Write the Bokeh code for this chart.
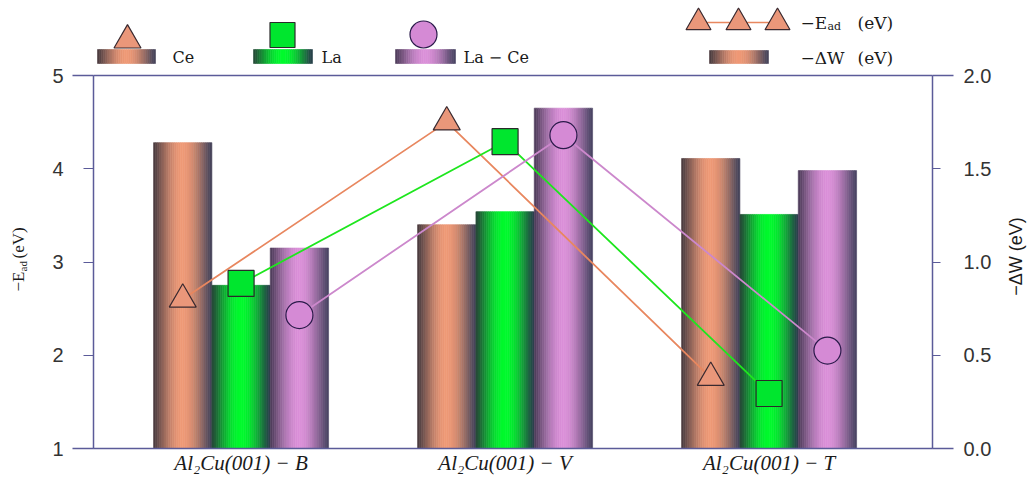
import math
from bokeh.plotting import figure
from bokeh.models import Range1d, LinearAxis, FixedTicker, PrintfTickFormatter, Span
from bokeh.layouts import row
from bokeh.embed import file_html
from bokeh.resources import INLINE
from bokeh.core.properties import value

# ---------------- data ----------------
categories = ["Al₂Cu(001) − B", "Al₂Cu(001) − V", "Al₂Cu(001) − T"]
series_names = ["Ce", "La", "La − Ce"]
# -ΔW (eV), bars, right axis
dw_ce = [1.64, 1.20, 1.555]
dw_la = [0.875, 1.27, 1.255]
dw_lace = [1.075, 1.825, 1.49]
# -E_ad (eV), markers + lines, left axis
ead_ce = [2.60, 4.50, 1.76]
ead_la = [2.77, 4.29, 1.59]
ead_lace = [2.43, 4.36, 2.05]
ead_ticks = [1, 2, 3, 4, 5]
dw_ticks = [0.0, 0.5, 1.0, 1.5, 2.0]

# ---------------- style ----------------
AXIS = "#5b5b99"
TICKTXT = "#333333"
TXT = "#1a1a1a"
SERIF = "Liberation Serif"
LSERIF = "DejaVu Serif"
SANS = "Liberation Sans"

PAL = {
    "Ce": ((72, 58, 62), (238, 153, 118), (66, 66, 90)),
    "La": ((38, 72, 56), (0, 250, 45), (40, 60, 74)),
    "La − Ce": ((78, 60, 90), (218, 144, 216), (70, 66, 96)),
}
LINE_COL = {"Ce": "#e8875f", "La": "#1ee61e", "La − Ce": "#cc88cc"}
MARK_FILL = {"Ce": "#ea977a", "La": "#00e62e", "La − Ce": "#d58ad5"}
MARK_LINE = {"Ce": "#3a2a30", "La": "#2a2a2a", "La − Ce": "#2a1a4a"}
MARKER = {"Ce": "triangle", "La": "square", "La − Ce": "circle"}
MSIZE = {"Ce": 27, "La": 26, "La − Ce": 27}
NSTRIP = 28


def grad_colors(edge_l, mid, edge_r, n):
    cols = []
    for i in range(n):
        t = (i + 0.5) / n
        f = math.sin(math.pi * t) ** 1.2
        e = [a + (b - a) * t for a, b in zip(edge_l, edge_r)]
        c = [int(round(ee + (m - ee) * f)) for ee, m in zip(e, mid)]
        cols.append("#%02x%02x%02x" % tuple(c))
    return cols


# ---------------- geometry (page px) ----------------
H = 478
W_LT, W_RT = 40, 30
W_MAIN = 1030 - W_LT - W_RT
FR_L, FR_R = 93, 932          # frame left/right on page
AX_T, AX_B = 75, 448          # page y of value 5 (2.0) and 1 (0.0)
X0, X1 = 0.441, 3.619
BW = 0.221
Y_TOP = 1 + AX_B / (AX_B - AX_T) * 4      # data value at page y = 0
DW_TOP = (Y_TOP - 1) / 2


def fx(px):
    return X0 + (px - FR_L) / (FR_R - FR_L) * (X1 - X0)


def fy(py):
    return 1 + (AX_B - py) / (AX_B - AX_T) * 4


# ---------------- main figure ----------------
p = figure(width=W_MAIN, height=H, x_range=Range1d(X0, X1), y_range=Range1d(1, Y_TOP),
           output_backend="svg", toolbar_location=None,
           min_border_left=FR_L - W_LT, min_border_right=W_LT + W_MAIN - FR_R,
           min_border_top=0, min_border_bottom=H - AX_B,
           background_fill_color="white", border_fill_color="white",
           outline_line_color=None)
p.extra_y_ranges = {"dw": Range1d(0, DW_TOP)}
p.xgrid.grid_line_color = None
p.ygrid.grid_line_color = None

xs = [1, 2, 3]
dws = {"Ce": dw_ce, "La": dw_la, "La − Ce": dw_lace}
eads = {"Ce": ead_ce, "La": ead_la, "La − Ce": ead_lace}

for k, name in enumerate(series_names):
    cols = grad_colors(*PAL[name], NSTRIP)
    L, R, T, C = [], [], [], []
    for g, v in zip(xs, dws[name]):
        c = g + (k - 1) * BW
        for i in range(NSTRIP):
            l = c - BW / 2 + i * BW / NSTRIP
            L.append(l); R.append(l + BW / NSTRIP); T.append(v); C.append(cols[i])
    p.quad(left=L, right=R, bottom=0, top=T, fill_color=C, line_color=C,
           line_width=0.6, y_range_name="dw")

for k, name in enumerate(series_names):
    mx = [g + (k - 1) * BW for g in xs]
    p.line(mx, eads[name], line_color=LINE_COL[name], line_width=1.8)
for k, name in enumerate(series_names):
    mx = [g + (k - 1) * BW for g in xs]
    p.scatter(mx, eads[name], marker=MARKER[name], size=MSIZE[name],
              fill_color=MARK_FILL[name], line_color=MARK_LINE[name], line_width=1.2)

# top border line of the plot box
p.add_layout(Span(location=ead_ticks[-1], dimension="width", line_color=AXIS, line_width=1.5))

# axes
xa = p.xaxis[0]
xa.ticker = FixedTicker(ticks=xs)
xa.major_label_overrides = {i: c for i, c in zip(xs, categories)}
xa.major_tick_line_color = None
xa.minor_tick_line_color = None
xa.major_tick_in = 0
xa.major_tick_out = 0
xa.minor_tick_in = 0
xa.minor_tick_out = 0
xa.axis_line_color = AXIS
xa.axis_line_width = 1.5
xa.major_label_standoff = 2
xa.major_label_text_font = SERIF
xa.major_label_text_font_style = "italic"
xa.major_label_text_font_size = "21px"
xa.major_label_text_line_height = 1.1
xa.major_label_text_color = TXT

ya = p.yaxis[0]
ya.bounds = (ead_ticks[0], ead_ticks[-1])
ya.ticker = FixedTicker(ticks=ead_ticks, minor_ticks=[ead_ticks[0], ead_ticks[-1]])
ya.axis_line_color = AXIS
ya.axis_line_width = 1.5
ya.major_tick_line_color = AXIS
ya.major_tick_line_width = 1.2
ya.major_tick_in = 0
ya.major_tick_out = 10
ya.minor_tick_line_color = AXIS
ya.minor_tick_line_width = 1.5
ya.minor_tick_in = 0
ya.minor_tick_out = 21
ya.major_label_standoff = 9
ya.major_label_text_font = SANS
ya.major_label_text_font_size = "20px"
ya.major_label_text_color = TICKTXT

ra = LinearAxis(y_range_name="dw", bounds=(dw_ticks[0], dw_ticks[-1]),
                ticker=FixedTicker(ticks=dw_ticks, minor_ticks=[dw_ticks[0], dw_ticks[-1]]),
                formatter=PrintfTickFormatter(format="%.1f"))
ra.axis_line_color = AXIS
ra.axis_line_width = 1.5
ra.major_tick_line_color = AXIS
ra.major_tick_line_width = 1.2
ra.major_tick_in = 0
ra.major_tick_out = 8
ra.minor_tick_line_color = AXIS
ra.minor_tick_line_width = 1.5
ra.minor_tick_in = 0
ra.minor_tick_out = 21
ra.major_label_standoff = 10
ra.major_label_text_font = SANS
ra.major_label_text_font_size = "20px"
ra.major_label_text_color = TICKTXT
p.add_layout(ra, "right")

# ---------------- legend (inside the frame, above the plot box) ----------------
def leg_bar(x0, x1, y0, y1, name):
    cols = grad_colors(*PAL[name], NSTRIP)
    w = (x1 - x0) / NSTRIP
    L = [fx(x0 + i * w) for i in range(NSTRIP)]
    R = [fx(x0 + (i + 1) * w) for i in range(NSTRIP)]
    p.quad(left=L, right=R, bottom=fy(y1), top=fy(y0), fill_color=cols, line_color=cols,
           line_width=0.6)


def leg_text(px, py, s, size="16px"):
    p.text([fx(px)], [fy(py)], text=[s], text_font=value(LSERIF), text_font_size=size,
           text_baseline="middle", text_color=TXT)


leg_items = [
    ("Ce", 97, 155, 127, 39.7, 172),
    ("La", 253, 312, 282, 34.5, 321),
    ("La − Ce", 395, 455, 423, 34, 463),
]
for name, bx0, bx1, mx, my, tx in leg_items:
    leg_bar(bx0, bx1, 49, 63, name)
    p.scatter([fx(mx)], [fy(my)], marker=MARKER[name],
              size=MSIZE[name] - (1 if name == "La" else 0),
              fill_color=MARK_FILL[name], line_color=MARK_LINE[name], line_width=1.2)
    leg_text(tx, 57, name)

tri_x = [fx(v) for v in (698, 738, 777)]
p.line(tri_x, [fy(22)] * 3, line_color=LINE_COL["Ce"], line_width=1.5)
p.scatter(tri_x, [fy(22)] * 3, marker="triangle", size=25, fill_color=MARK_FILL["Ce"],
          line_color=MARK_LINE["Ce"], line_width=1.2)
leg_text(800, 22, "−E", "17px")
leg_text(827, 26, "ad", "11px")
leg_text(857, 22, "(eV)", "17px")
leg_bar(709, 768, 50, 63, "Ce")
leg_text(800, 57, "−ΔW", "17px")
leg_text(857, 57, "(eV)", "17px")

# ---------------- axis titles (side strips sharing the y scale) ----------------
ROT = math.pi / 2


def side_fig(width, x_start):
    f = figure(width=width, height=H, x_range=Range1d(x_start, x_start + width),
               y_range=p.y_range, output_backend="svg", toolbar_location=None,
               min_border_left=0, min_border_right=0, min_border_top=0,
               min_border_bottom=H - AX_B, x_axis_type=None, y_axis_type=None,
               outline_line_color=None, background_fill_color="white",
               border_fill_color="white")
    f.xgrid.grid_line_color = None
    f.ygrid.grid_line_color = None
    return f


lt = side_fig(W_LT, 0)
lt.text([18], [fy(291)], text=["−E"], angle=ROT, text_align="left", text_baseline="middle",
        text_font=value(SERIF), text_font_size="17px", text_color=TXT)
lt.text([22.5], [fy(271)], text=["ad"], angle=ROT, text_align="left", text_baseline="middle",
        text_font=value(SERIF), text_font_size="11px", text_color=TXT)
lt.text([18], [fy(258)], text=["(eV)"], angle=ROT, text_align="left", text_baseline="middle",
        text_font=value(SERIF), text_font_size="17px", text_color=TXT)

rt = side_fig(W_RT, W_LT + W_MAIN)
rt.text([1015], [fy(256)], text=["−ΔW (eV)"], angle=ROT, text_align="center",
        text_baseline="middle", text_font=value(SANS), text_font_size="18px", text_color=TXT)

layout = row(lt, p, rt, spacing=0)
open("out.html", "w").write(file_html(layout, INLINE))
